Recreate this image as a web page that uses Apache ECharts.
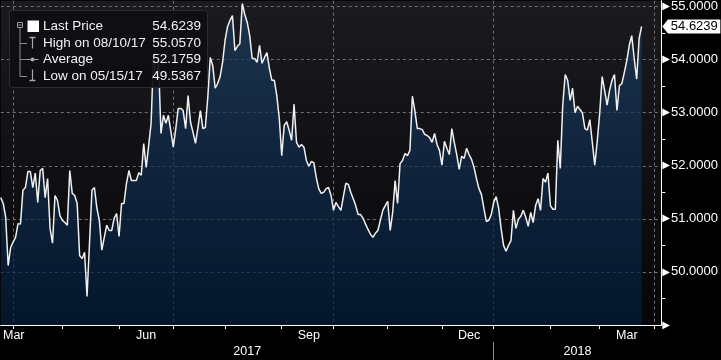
<!DOCTYPE html>
<html><head><meta charset="utf-8">
<script src="https://cdn.jsdelivr.net/npm/echarts@6/dist/echarts.min.js"></script>
<style>html,body{margin:0;padding:0;background:#000;}#c{width:721px;height:360px;}</style>
</head><body><div id="c"></div>
<script>
// ---- data ----
const startDate = '2017-03-27';   // first weekday shown on the axis
const categoryCount = 269;        // weekdays up to 2018-04-05
const prices = [
 51.40,51.29,51.03,50.12,50.46,50.56,50.65,50.91,50.90,51.54,
 51.59,51.89,51.89,51.59,51.86,51.31,51.91,51.95,51.40,51.76,
 50.82,50.54,51.44,51.35,51.06,50.97,50.93,50.88,51.91,51.48,
 51.44,51.29,50.31,50.25,50.37,49.5367,50.54,51.54,51.59,51.20,
 50.97,50.41,50.65,50.88,50.78,50.78,51.01,51.10,50.67,51.29,
 51.29,51.67,51.91,51.72,51.72,51.72,51.87,51.82,52.42,51.97,
 52.38,52.80,54.12,53.61,53.98,52.61,52.95,52.80,52.95,52.65,
 52.35,52.70,53.08,53.08,53.04,52.70,53.32,52.82,52.63,52.42,
 52.72,53.04,52.70,52.72,53.29,54.04,53.89,53.46,53.55,53.68,
 53.95,54.36,54.62,54.74,54.83,54.17,54.25,54.30,55.0570,54.85,
 54.70,54.45,54.02,54.02,53.95,54.27,53.93,54.04,54.13,53.83,
 53.61,53.61,53.32,52.89,52.19,52.76,52.83,52.67,52.48,53.16,
 52.44,52.35,52.40,52.35,52.10,51.99,52.08,52.06,51.78,51.57,
 51.48,51.50,51.57,51.59,51.44,51.16,51.31,51.23,51.16,51.42,
 51.67,51.65,51.50,51.38,51.25,51.08,51.08,51.01,50.90,50.80,
 50.71,50.65,50.73,50.78,50.97,51.16,51.25,51.33,50.78,51.12,
 51.72,51.29,52.04,52.10,52.23,52.19,52.29,53.31,53.04,52.70,
 52.70,52.68,52.59,52.57,52.53,52.44,52.61,52.40,52.29,52.01,
 52.46,52.33,52.21,52.70,52.44,52.21,51.93,52.18,52.14,52.33,
 52.21,52.12,51.97,51.76,51.57,51.46,51.20,50.95,50.97,51.08,
 51.31,51.42,51.20,50.82,50.50,50.39,50.50,50.59,51.16,50.82,
 50.99,51.05,51.16,51.03,50.86,51.12,50.93,51.25,51.38,51.16,
 51.76,51.69,51.86,51.25,51.18,51.18,52.48,51.95,53.14,53.72,
 53.61,53.23,53.46,53.00,53.12,53.06,52.99,52.70,52.67,52.87,
 52.44,52.01,52.46,52.99,53.68,53.42,53.14,53.42,53.61,53.72,
 53.04,53.51,53.55,53.76,53.98,54.27,54.45,54.02,53.63,54.40,
 54.6239
];
const yMin = 49, yMax = 55.11, yStep = 1;
const monthNames = ['Jan','Feb','Mar','Apr','May','Jun','Jul','Aug','Sep','Oct','Nov','Dec'];
const labelledMonths = [3, 6, 9, 12];
const quarterMonths = [1, 4, 7, 10];
const legendLabels = ['Last Price', 'High on 08/10/17', 'Average', 'Low on 05/15/17'];
const legendValues = ['54.6239', '55.0570', '52.1759', '49.5367'];

// ---- categories (weekdays) ----
function buildDays(start, n) {
  const out = []; const d = new Date(start + 'T00:00:00Z');
  while (out.length < n) {
    const w = d.getUTCDay();
    if (w !== 0 && w !== 6) out.push(d.toISOString().slice(0, 10));
    d.setUTCDate(d.getUTCDate() + 1);
  }
  return out;
}
const days = buildDays(startDate, categoryCount);
const mon = s => +s.slice(5, 7);
const monthStarts = [];
for (let i = 1; i < days.length; i++) if (mon(days[i]) !== mon(days[i - 1])) monthStarts.push(i);
const isMonthStart = new Set(monthStarts);
const quarterStarts = new Set(monthStarts.filter(i => quarterMonths.includes(mon(days[i]))));
const monthLabels = {0: monthNames[mon(days[0]) - 1]};
monthStarts.forEach((s, k) => {
  const m = mon(days[s]);
  if (labelledMonths.includes(m)) {
    const e = k + 1 < monthStarts.length ? monthStarts[k + 1] : days.length - 1;
    monthLabels[Math.round((s + e) / 2)] = monthNames[m - 1];
  }
});
const janIdx = days.findIndex(d => d.slice(0, 4) === '2018');
const yearLabels = {};
yearLabels[Math.round(janIdx / 2)] = days[0].slice(0, 4);
yearLabels[Math.round((janIdx + days.length - 1) / 2)] = days[janIdx].slice(0, 4);

const FONT = "'Liberation Sans', Arial, sans-serif";
const grid = {color: '#727272', type: [3, 3], width: 1};

const chart = echarts.init(document.getElementById('c'), null, {renderer: 'canvas'});

// legend box (graphic)
const L = [];
L.push({type: 'rect', shape: {x: 9.5, y: 10.5, width: 198, height: 77, r: 3},
  style: {fill: 'rgba(14,14,18,0.93)', stroke: '#2c2c30', lineWidth: 1}});
L.push({type: 'rect', shape: {x: 17.5, y: 22.5, width: 5, height: 5}, style: {fill: 'none', stroke: '#9a9a9a', lineWidth: 1}});
L.push({type: 'line', shape: {x1: 18.5, y1: 25, x2: 21.5, y2: 25}, style: {stroke: '#9a9a9a', lineWidth: 1}});
L.push({type: 'line', shape: {x1: 20, y1: 28, x2: 20, y2: 76.5}, style: {stroke: '#8a8a8a', lineWidth: 1}});
[43.5, 59.5, 76.5].forEach(y => L.push({type: 'line', shape: {x1: 20, y1: y, x2: 27, y2: y}, style: {stroke: '#8a8a8a', lineWidth: 1}}));
L.push({type: 'rect', shape: {x: 27.5, y: 20.5, width: 11.5, height: 11.5}, style: {fill: '#ffffff'}});
// high icon
L.push({type: 'line', shape: {x1: 32.5, y1: 37, x2: 32.5, y2: 48.5}, style: {stroke: '#a8a8a8', lineWidth: 1.2}});
L.push({type: 'line', shape: {x1: 29.5, y1: 37.5, x2: 35.5, y2: 37.5}, style: {stroke: '#a8a8a8', lineWidth: 1.5}});
// average icon
L.push({type: 'line', shape: {x1: 27, y1: 59.5, x2: 38.5, y2: 59.5}, style: {stroke: '#a8a8a8', lineWidth: 1}});
L.push({type: 'circle', shape: {cx: 32.5, cy: 59.5, r: 2}, style: {fill: '#a8a8a8'}});
// low icon
L.push({type: 'line', shape: {x1: 32.5, y1: 69.5, x2: 32.5, y2: 80.5}, style: {stroke: '#a8a8a8', lineWidth: 1.2}});
L.push({type: 'line', shape: {x1: 29.5, y1: 80.5, x2: 35.5, y2: 80.5}, style: {stroke: '#a8a8a8', lineWidth: 1.5}});
const rowsY = [26.5, 43, 59.5, 76];
legendLabels.forEach((t, i) => {
  L.push({type: 'text', style: {text: t, x: 43, y: rowsY[i], fill: '#f2f2f2', fontSize: 13.5, fontFamily: FONT,
    textAlign: 'left', align: 'left', textVerticalAlign: 'middle', verticalAlign: 'middle'}});
  L.push({type: 'text', style: {text: legendValues[i], x: 201, y: rowsY[i], fill: '#f2f2f2', fontSize: 13.5, fontFamily: FONT,
    textAlign: 'right', align: 'right', textVerticalAlign: 'middle', verticalAlign: 'middle'}});
});

const lastVal = prices[prices.length - 1];

chart.setOption({
  animation: false,
  backgroundColor: '#000',
  grid: {left: 0, right: 59, top: 0, bottom: 35, show: true, borderWidth: 0,
    backgroundColor: new echarts.graphic.LinearGradient(0, 0, 0, 1, [
      {offset: 0, color: '#1b1b1f'}, {offset: 1, color: '#060609'}])},
  xAxis: [{
    type: 'category', data: days, boundaryGap: false,
    axisLine: {show: true, lineStyle: {color: '#ffffff', width: 1}},
    axisTick: {show: true, interval: i => isMonthStart.has(i), length: 4, lineStyle: {color: '#ffffff'}},
    axisLabel: {interval: i => (i in monthLabels), color: '#ffffff', fontSize: 12.5, fontFamily: FONT, margin: 4,
      formatter: (v, i) => i === 0 ? '{first|' + monthLabels[0] + '}' : (monthLabels[i] || ''),
      rich: {first: {padding: [0, 0, 0, 26], color: '#ffffff', fontSize: 12.5, fontFamily: FONT}}},
    splitLine: {show: true, interval: i => quarterStarts.has(i), lineStyle: grid}
  }, {
    type: 'category', data: days, boundaryGap: false, position: 'bottom', offset: 17,
    axisLine: {show: false},
    axisTick: {show: true, interval: i => i === janIdx, length: 18, lineStyle: {color: '#8a8a8a'}},
    axisLabel: {interval: i => (i in yearLabels), formatter: (v, i) => yearLabels[i] || '',
      color: '#ffffff', fontSize: 12.5, fontFamily: FONT, margin: 3},
    splitLine: {show: false}
  }],
  yAxis: {
    type: 'value', position: 'right', min: yMin, max: yMax, interval: yStep,
    axisLine: {show: true, lineStyle: {color: '#ffffff', width: 1}},
    axisTick: {show: false},
    minorTick: {show: true, splitNumber: 2, length: 4, lineStyle: {color: '#ffffff'}},
    splitLine: {show: true, showMaxLine: false, lineStyle: grid},
    axisLabel: {
      margin: 1, showMaxLabel: false,
      formatter: v => {
        if (Math.abs(v - Math.round(v)) > 1e-6 || v > 55.0001) return '';
        if (Math.abs(v - yMin) < 1e-6) return '{a|▶}';
        return '{a|▶}{b|' + v.toFixed(4) + '}';
      },
      rich: {
        a: {fontSize: 10, color: '#ffffff', fontFamily: 'DejaVu Sans', padding: [0, 1, 0, 0], verticalAlign: 'middle'},
        b: {fontSize: 13, color: '#ffffff', fontFamily: FONT, verticalAlign: 'middle'}
      }
    }
  },
  series: [{
    type: 'line', data: prices, symbol: 'none', silent: true,
    lineStyle: {color: '#f0f0f0', width: 1.5},
    areaStyle: {origin: 'start', color: new echarts.graphic.LinearGradient(0, 0, 0, 1, [
      {offset: 0, color: '#1e3e60'}, {offset: 0.4, color: '#122f51'}, {offset: 1, color: '#021d3b'}])},
    markPoint: {
      symbol: 'path://M0,7 L6,0 L62,0 L62,14 L6,14 Z', symbolSize: [58, 14], symbolOffset: [30, 0],
      itemStyle: {color: '#ffffff'}, silent: true, animation: false,
      label: {show: true, position: 'inside', offset: [3, 0], color: '#000000', fontSize: 13, fontFamily: FONT,
        formatter: () => lastVal.toFixed(4)},
      data: [{coord: [days[days.length - 1], lastVal]}]
    }
  }],
  graphic: {elements: L.map(e => Object.assign({z: 100}, e))}
});
</script></body></html>
